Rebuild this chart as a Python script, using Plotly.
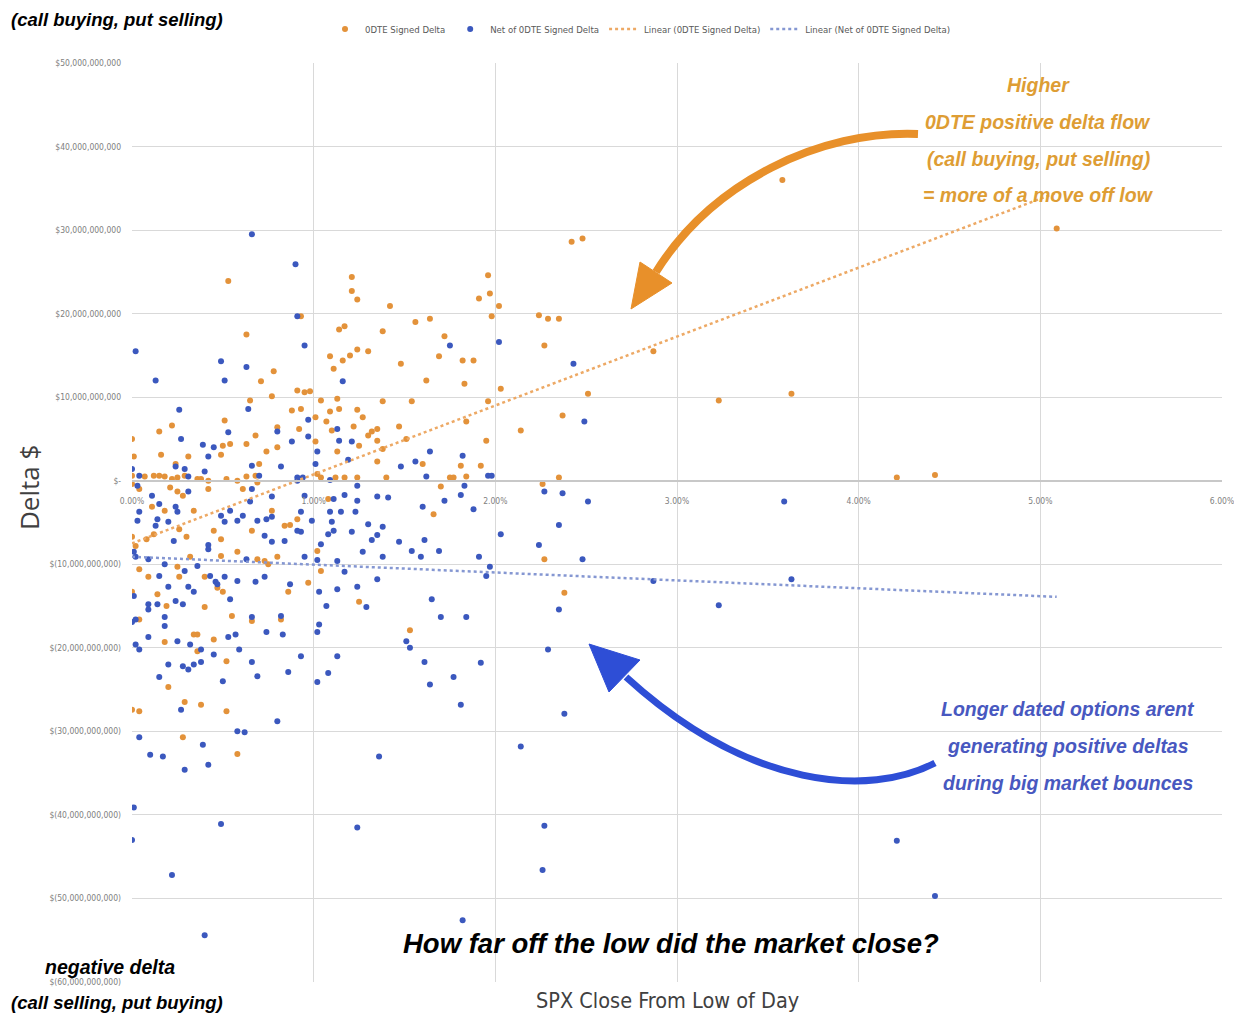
import plotly.graph_objects as go

# ---------------- data (x = % SPX close above low of day, y = delta in $ billions) ----------------
odte_pts = [
    (5.09, 30.2), (3.58, 36.0), (3.63, 10.4), (3.23, 9.6), (2.87, 15.5), (4.21, 0.4), (4.42, 0.7),
    (2.42, 28.6), (2.48, 29.0), (1.96, 24.6), (1.91, 21.8), (1.97, 22.4), (2.02, 20.9), (1.98, 19.7),
    (2.24, 19.8), (2.29, 19.4), (2.35, 19.4), (2.27, 16.2), (1.82, 14.4), (1.88, 14.4), (1.83, 11.6),
    (2.03, 11.0), (2.51, 10.4), (1.96, 9.5), (1.84, 7.1), (2.37, 7.8), (2.14, 6.0), (1.95, 4.8),
    (1.81, 1.8), (1.92, 1.8), (1.84, 0.5), (2.26, -0.4), (2.35, 0.4), (2.27, -9.4), (2.38, -13.4),
    (1.21, 24.4), (1.21, 22.7), (1.24, 21.7), (1.42, 20.9), (0.93, 19.7), (1.14, 18.1), (1.17, 18.5),
    (1.38, 17.9), (1.56, 19.0), (1.64, 19.4), (1.72, 17.3), (1.09, 14.9), (1.11, 13.4), (1.16, 14.4),
    (1.20, 15.0), (1.24, 15.7), (1.30, 15.5), (1.48, 14.0), (1.69, 14.9), (1.62, 12.0), (0.91, 10.8),
    (0.95, 10.6), (0.98, 10.7), (1.04, 9.6), (1.13, 9.8), (1.14, 8.6), (1.38, 9.5), (1.54, 9.5),
    (0.93, 8.6), (1.09, 8.3), (1.24, 8.5), (1.27, 7.6), (1.07, 7.1), (1.01, 7.6), (0.92, 6.2),
    (1.10, 6.0), (1.22, 6.5), (1.30, 5.4), (1.32, 5.9), (1.35, 6.2), (1.47, 6.5), (1.01, 4.7),
    (1.13, 3.5), (1.25, 4.2), (1.35, 4.8), (1.38, 3.8), (1.51, 5.0), (1.35, 2.3), (1.60, 2.0),
    (1.02, 0.8), (1.04, 0.4), (1.12, 0.4), (1.17, 0.4), (1.24, 0.4), (1.40, 0.4), (1.75, 0.4),
    (1.77, 0.4), (1.70, -0.7), (1.66, -4.0), (1.08, -2.2), (1.02, -8.4), (1.04, -10.8), (0.97, -12.2),
    (1.25, -14.5), (1.53, -17.9), (0.91, -4.6),
    (0.53, 23.9), (0.63, 17.5), (0.78, 13.1), (0.71, 11.9), (0.77, 10.1), (0.65, 9.6), (0.88, 8.4),
    (0.51, 7.2), (0.22, 6.6), (0.15, 5.9), (0.00, 5.0), (0.68, 5.4), (0.80, 6.4), (0.63, 4.4),
    (0.50, 4.2), (0.54, 4.4), (0.16, 3.1), (0.01, 2.9), (0.74, 3.5), (0.80, 4.0), (0.31, 2.9),
    (0.24, 2.0), (0.49, 3.1), (0.70, 2.0), (0.00, 0.6), (0.07, 0.5), (0.12, 0.6), (0.15, 0.6),
    (0.18, 0.5), (0.22, 0.2), (0.25, 0.4), (0.29, 0.6), (0.36, 0.2), (0.38, 0.2), (0.42, 0.0),
    (0.52, 0.2), (0.58, 0.0), (0.63, 0.5), (0.68, 0.6), (0.00, -0.4), (0.21, -0.8), (0.25, -1.3),
    (0.28, -1.8), (0.42, -1.0), (0.04, -1.0), (0.61, -1.0), (0.69, -0.2), (0.11, -3.1), (0.18, -3.6),
    (0.34, -3.6), (0.77, -3.6), (0.84, -5.4), (0.87, -5.3), (0.45, -6.0), (0.66, -6.0), (0.26, -5.8),
    (0.30, -6.7), (0.00, -6.7), (0.02, -7.8), (0.08, -7.0), (0.12, -6.4), (0.49, -7.0), (0.58, -8.5),
    (0.69, -9.4), (0.73, -9.6), (0.75, -10.0), (0.80, -9.1), (0.49, -9.0), (0.32, -9.1), (0.25, -10.3),
    (0.04, -10.6), (0.09, -11.5), (0.40, -11.5), (0.26, -11.5), (0.47, -12.8), (0.50, -13.3),
    (0.86, -13.3), (0.00, -13.3), (0.14, -13.6), (0.19, -15.0), (0.40, -15.1), (0.55, -16.2),
    (0.66, -16.8), (0.04, -16.6), (0.82, -16.6), (0.34, -18.4), (0.36, -18.4), (0.18, -19.3),
    (0.45, -19.0), (0.36, -20.4), (0.52, -21.6), (0.20, -24.7), (0.00, -27.4), (0.04, -27.6),
    (0.29, -26.5), (0.38, -26.8), (0.52, -27.6), (0.28, -30.7), (0.58, -32.7),
]

net_pts = [
    (3.59, -2.5), (2.87, -12.0), (3.23, -14.9), (3.63, -11.8), (2.14, -31.8), (2.27, -41.3),
    (2.26, -46.6), (1.82, -52.6), (1.24, -41.5), (1.36, -33.0), (4.21, -43.1), (4.42, -49.7),
    (0.40, -54.4), (0.22, -47.2), (0.49, -41.1), (0.01, -39.1), (0.00, -43.0), (0.66, 29.5),
    (0.90, 25.9), (0.02, 15.5), (0.13, 12.0),
    (2.02, 16.6), (2.43, 14.0), (2.49, 7.1), (1.82, 3.0), (1.96, 0.6), (1.98, 0.6), (1.83, -0.6),
    (1.81, -1.7), (1.88, -3.4), (2.27, -1.3), (2.37, -1.5), (2.51, -2.5), (2.03, -6.4), (2.35, -5.3),
    (2.24, -7.7), (1.91, -9.1), (1.97, -10.3), (1.95, -11.4), (2.48, -9.4), (1.84, -16.3),
    (2.35, -15.4), (2.29, -20.2), (1.92, -21.8), (1.81, -26.8), (2.38, -27.9),
    (0.91, 19.7), (0.95, 16.2), (1.16, 11.9), (1.75, 16.2), (0.97, 7.3), (0.97, 5.3), (1.13, 6.2),
    (1.14, 4.8), (1.21, 4.7), (1.02, 3.5), (1.01, 2.0), (1.19, 2.5), (1.64, 3.5), (1.48, 1.7),
    (1.56, 2.3), (0.91, 0.4), (0.94, 0.4), (1.09, 0.1), (1.24, -0.6), (1.62, 0.5), (0.95, -1.8),
    (1.11, -2.2), (1.17, -1.7), (1.24, -2.4), (1.35, -1.9), (1.41, -2.0), (1.60, -3.1), (1.72, -2.4),
    (0.93, -3.7), (1.09, -3.7), (1.15, -3.7), (1.23, -3.7), (0.99, -4.8), (1.10, -4.9), (0.93, -6.1),
    (1.08, -6.4), (1.11, -6.0), (1.21, -6.1), (1.30, -5.2), (1.35, -6.5), (1.38, -5.5), (1.32, -7.1),
    (1.47, -7.3), (1.61, -7.1), (1.04, -7.6), (1.27, -8.5), (1.54, -8.4), (1.59, -9.1), (1.69, -8.4),
    (1.38, -9.1), (0.95, -9.1), (1.02, -9.5), (1.13, -9.6), (1.17, -10.9), (1.35, -11.8),
    (1.03, -13.3), (1.13, -13.0), (1.24, -12.7), (1.07, -15.0), (1.29, -15.1), (1.65, -14.2),
    (1.70, -16.3), (1.03, -17.2), (1.02, -18.1), (1.51, -19.2), (1.53, -20.0), (0.93, -21.0),
    (1.13, -21.0), (1.61, -21.7), (1.08, -23.0), (1.02, -24.1), (1.64, -24.4), (1.77, -23.5),
    (0.49, 14.3), (0.51, 12.0), (0.63, 13.6), (0.64, 8.6), (0.26, 8.5), (0.27, 5.0), (0.53, 5.8),
    (0.80, 5.9), (0.39, 4.3), (0.45, 4.0), (0.42, 2.9), (0.88, 4.7), (0.82, 1.7), (0.00, 1.4),
    (0.04, 0.6), (0.24, 1.7), (0.29, 1.4), (0.40, 1.1), (0.66, 1.8), (0.70, 0.6), (0.91, 0.0),
    (0.31, 0.5), (0.03, -0.6), (0.11, -1.8), (0.31, -1.3), (0.66, -1.0), (0.77, -1.9), (0.15, -2.8),
    (0.24, -3.1), (0.25, -3.7), (0.65, -2.5), (0.54, -3.6), (0.04, -3.7), (0.03, -4.8), (0.14, -4.6),
    (0.49, -4.2), (0.51, -4.9), (0.58, -4.8), (0.61, -4.2), (0.69, -4.8), (0.74, -4.6), (0.77, -4.3),
    (0.13, -5.4), (0.20, -4.9), (0.73, -6.6), (0.77, -7.3), (0.84, -7.2), (0.91, -6.0), (0.23, -7.2),
    (0.42, -7.7), (0.42, -8.2), (0.01, -8.5), (0.02, -9.1), (0.09, -9.4), (0.63, -9.4), (0.18, -10.0),
    (0.36, -10.2), (0.29, -10.8), (0.43, -11.4), (0.51, -11.5), (0.15, -11.4), (0.46, -12.1),
    (0.68, -12.1), (0.73, -11.5), (0.87, -12.4), (0.58, -12.0), (0.31, -12.7), (0.34, -13.3),
    (0.20, -12.7), (0.47, -12.4), (0.01, -13.8), (0.09, -14.8), (0.09, -15.4), (0.14, -14.8),
    (0.24, -14.4), (0.28, -14.8), (0.54, -14.2), (0.18, -16.3), (0.00, -16.9), (0.02, -16.6),
    (0.18, -17.4), (0.66, -16.3), (0.82, -16.2), (0.74, -18.1), (0.83, -18.4), (0.57, -18.4),
    (0.09, -18.7), (0.25, -19.2), (0.02, -19.6), (0.04, -20.2), (0.32, -19.6), (0.38, -20.2),
    (0.59, -20.2), (0.53, -18.7), (0.45, -20.8), (0.20, -22.0), (0.28, -22.2), (0.31, -22.6),
    (0.34, -22.0), (0.38, -21.7), (0.66, -21.7), (0.69, -23.4), (0.15, -23.5), (0.50, -24.0),
    (0.86, -22.9), (0.27, -27.4), (0.80, -28.8), (0.04, -30.7), (0.58, -30.0), (0.62, -30.1),
    (0.39, -31.6), (0.10, -32.8), (0.17, -33.0), (0.29, -34.6), (0.42, -34.0),
]

trend_x = [0.0, 5.09]
odte_trend_bn = [-7.5, 34.5]
net_trend_bn = [-9.1, -13.9]

x_ticks = [0, 1, 2, 3, 4, 5, 6]
x_tick_labels = ["0.00%", "1.00%", "2.00%", "3.00%", "4.00%", "5.00%", "6.00%"]
y_ticks_bn = [50, 40, 30, 20, 10, 0, -10, -20, -30, -40, -50, -60]
y_tick_labels = ["$50,000,000,000", "$40,000,000,000", "$30,000,000,000", "$20,000,000,000",
                 "$10,000,000,000", "$-", "$(10,000,000,000)", "$(20,000,000,000)",
                 "$(30,000,000,000)", "$(40,000,000,000)", "$(50,000,000,000)", "$(60,000,000,000)"]

BN = 1e9
ORANGE = "#E3923A"
BLUE = "#3B58BE"
ARIAL = "Liberation Sans, Arial, sans-serif"
COND = "DejaVu Sans Condensed, Liberation Sans, sans-serif"

FIG_W, FIG_H = 1242, 1023
PAGE_OFF = 8  # the page body adds an 8px margin around the figure
# plot box in page pixels
L, R, T, B = 132, 1222, 63, 982
W, H = R - L, B - T


def px(x):
    return (x - L) / W


def py(y):
    return (B - y) / H


def pt(x, y):
    return f"{px(x):.5f},{py(y):.5f}"


fig = go.Figure()
fig.add_trace(go.Scatter(
    x=[p[0] for p in odte_pts], y=[p[1] * BN for p in odte_pts], mode="markers",
    name="0DTE Signed Delta", marker=dict(color=ORANGE, size=6, line=dict(width=0))))
fig.add_trace(go.Scatter(
    x=[p[0] for p in net_pts], y=[p[1] * BN for p in net_pts], mode="markers",
    name="Net of 0DTE Signed Delta", marker=dict(color=BLUE, size=6, line=dict(width=0))))
fig.add_trace(go.Scatter(
    x=trend_x, y=[v * BN for v in odte_trend_bn], mode="lines",
    name="Linear (0DTE Signed Delta)", line=dict(color="#EDA965", width=2.5, dash="dot")))
fig.add_trace(go.Scatter(
    x=trend_x, y=[v * BN for v in net_trend_bn], mode="lines",
    name="Linear (Net of 0DTE Signed Delta)", line=dict(color="#8597D2", width=2.5, dash="dot")))

y_lo, y_hi = -60 * BN, 50 * BN

fig.update_layout(
    width=FIG_W, height=FIG_H, autosize=False,
    margin=dict(l=L - PAGE_OFF, r=FIG_W - (R - PAGE_OFF), t=T - PAGE_OFF, b=FIG_H - (B - PAGE_OFF),
                autoexpand=False),
    paper_bgcolor="white", plot_bgcolor="white",
    font=dict(family=COND, color="#7f7f7f"),
    showlegend=True,
    legend=dict(orientation="h", x=px(325), xanchor="left", y=py(29), yanchor="middle",
                font=dict(size=9.5, color="#595959", family=COND), bgcolor="rgba(0,0,0,0)",
                itemwidth=30),
    xaxis=dict(range=[0, 6], tickvals=x_ticks, ticktext=x_tick_labels, automargin=False,
               showgrid=True, gridcolor="#d9d9d9", gridwidth=1, zeroline=False,
               anchor="free", position=(0 - y_lo) / (y_hi - y_lo),
               showline=True, linecolor="#c8c8c8", linewidth=1.5, ticks="",
               ticklabelstandoff=12, tickfont=dict(size=8.5, color="#808080", family=COND)),
    yaxis=dict(range=[y_lo, y_hi], tickvals=[v * BN for v in y_ticks_bn], ticktext=y_tick_labels,
               automargin=False,
               showgrid=True, gridcolor="#d9d9d9", gridwidth=1, zeroline=False, showline=False,
               ticks="", ticklabelstandoff=10, tickfont=dict(size=8.5, color="#808080", family=COND)),
)

ann = []


def add_text(text, x, y, size, color="black", family=ARIAL, bold=True, angle=0, bg=None):
    t = f"<b><i>{text}</i></b>" if bold else text
    a = dict(text=t, x=px(x), y=py(y), xref="paper", yref="paper", xanchor="center", yanchor="middle",
             showarrow=False, font=dict(size=size, color=color, family=family), textangle=angle)
    if bg:
        a["bgcolor"] = bg
    ann.append(a)


add_text("(call buying, put selling)", 117, 20, 18.5)
add_text("negative delta", 110, 967, 19.5)
add_text("(call selling, put buying)", 117, 1003, 18.5)
add_text("How far off the low did the market close?", 671, 943, 27.5)
add_text("SPX Close From Low of Day", 667, 1000, 21.5, color="#404040", family=COND, bold=False, bg="white")
add_text("Delta $", 29, 488, 26, color="#404040", family="Open Sans, sans-serif", bold=False, angle=-90)

GOLD = "#DE9D34"
for txt, yy in [("Higher", 85), ("0DTE positive delta flow", 122),
                ("(call buying, put selling)", 159), ("= more of a move off low", 195)]:
    add_text(txt, 1038, yy, 19.5, color=GOLD)

PURP = "#4858C0"
for txt, yy in [("Longer dated options arent", 709), ("generating positive deltas", 746),
                ("during big market bounces", 783)]:
    add_text(txt, 1068, yy, 19.5, color=PURP)

fig.update_layout(annotations=ann)

# curved arrows (decoration, in paper coordinates)
shapes = [
    dict(type="path", xref="paper", yref="paper", layer="above",
         path=f"M {pt(918,134)} C {pt(820,130)} {pt(712,182)} {pt(656,272)}",
         line=dict(color="#E8902A", width=8), fillcolor="rgba(0,0,0,0)"),
    dict(type="path", xref="paper", yref="paper", layer="above",
         path=f"M {pt(631,309)} L {pt(672,283)} L {pt(640,262)} Z",
         line=dict(color="#E8902A", width=1), fillcolor="#E8902A"),
    dict(type="path", xref="paper", yref="paper", layer="above",
         path=f"M {pt(935,763)} C {pt(870,797)} {pt(750,790)} {pt(626,677)}",
         line=dict(color="#2E4ED6", width=7), fillcolor="rgba(0,0,0,0)"),
    dict(type="path", xref="paper", yref="paper", layer="above",
         path=f"M {pt(589,644)} L {pt(640,660)} L {pt(609,692)} Z",
         line=dict(color="#2E4ED6", width=1), fillcolor="#2E4ED6"),
]
fig.update_layout(shapes=shapes)

fig.write_html("out.html")
